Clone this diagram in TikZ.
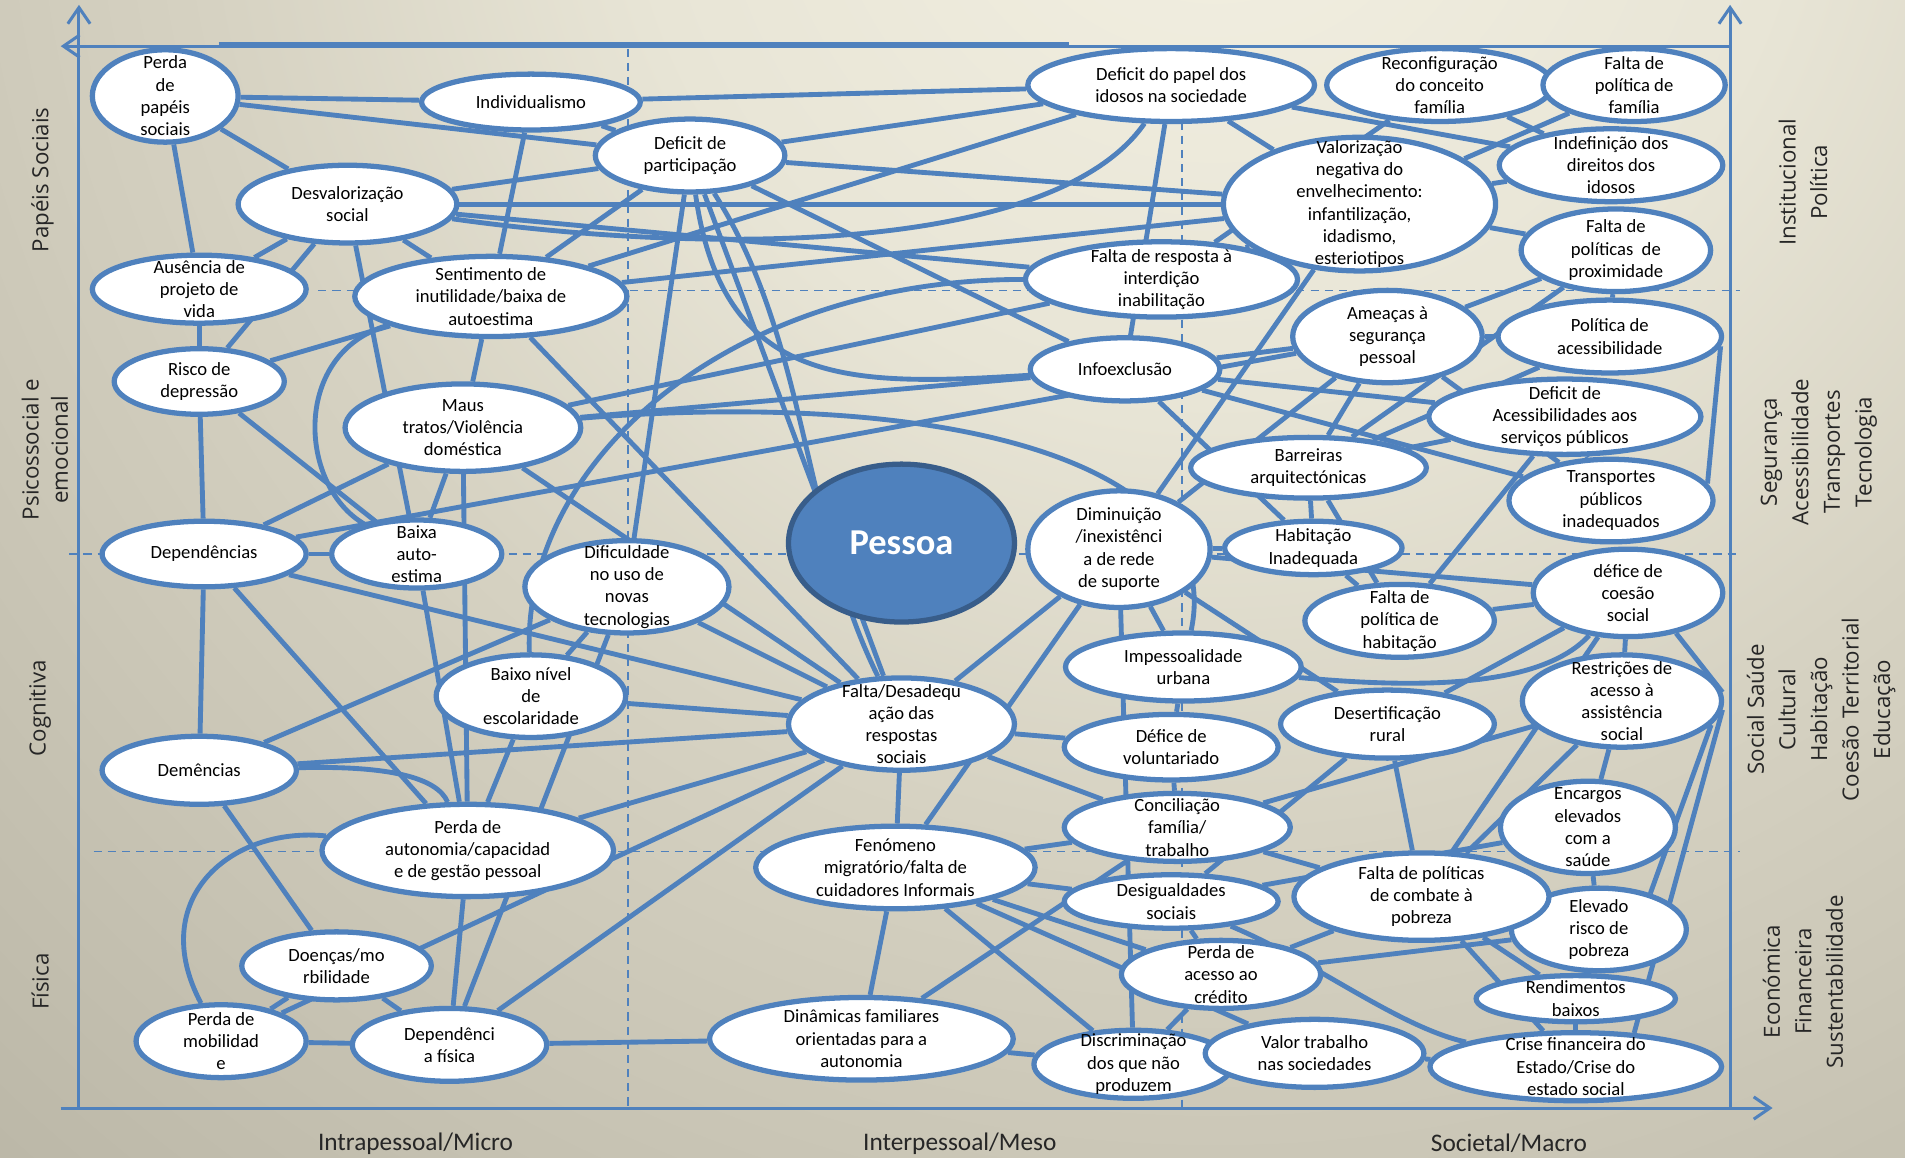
\documentclass[tikz,border=0pt]{standalone}
\usepackage{fontspec}
\setmainfont{Carlito}
\newfontfamily\sidefont{Open Sans}
\usetikzlibrary{arrows.meta,shapes.geometric}
\definecolor{bblue}{HTML}{4F81BD}
\definecolor{pdark}{HTML}{385D8A}
\definecolor{bgA}{HTML}{F3F0E2}
\definecolor{bgB}{HTML}{E8E5D6}
\definecolor{bgC}{HTML}{D6D2C2}
\definecolor{bgD}{HTML}{C7C3B3}
\definecolor{bgE}{HTML}{B9B5A5}
\definecolor{bgF}{HTML}{ABA797}
\definecolor{bgG}{HTML}{9F9B8C}
\definecolor{bgH}{HTML}{938F81}
\definecolor{bgI}{HTML}{878375}
\pgfdeclareradialshading{bgrad}{\pgfpoint{0bp}{0bp}}{color(0bp)=(bgA); color(8bp)=(bgB); color(14bp)=(bgC); color(20bp)=(bgD); color(26bp)=(bgE); color(32bp)=(bgF); color(37bp)=(bgG); color(42bp)=(bgH); color(50bp)=(bgI)}
\pgfdeclarelayer{bgl}
\pgfdeclarelayer{edgel}
\pgfsetlayers{bgl,edgel,main}
\newcommand\nodefnt{\fontsize{9.2}{11}\selectfont}
\newcommand\bub[6]{\node[bub,minimum width=#4*1.2pt,minimum height=#5*1.2pt] (#1) at (#2,#3) {};\node[btxt] (#1-t) at (#2,#3) {#6};}
\tikzset{
  bub/.style={ellipse,draw=bblue,fill=white,line width=2.6pt,inner sep=0pt},
  btxt/.style={font=\nodefnt,align=center,inner sep=0pt,text=black},
  edge/.style={draw=bblue,line width=2.4pt},
  axis/.style={draw=bblue,line width=1.5pt},
  dsh/.style={draw=bblue,line width=0.8pt,dash pattern=on 4pt off 3pt},
  sidelbl/.style={font=\sidefont\fontsize{11}{14.5}\selectfont,align=center,rotate=90,text=black!85},
  botlbl/.style={font=\fontsize{12.5}{14}\selectfont,text=black!85},
  tip/.style={-{Straight Barb[length=8pt,width=11pt,line width=1.5pt]}}
}
\begin{document}
\begin{tikzpicture}[x=0.6pt,y=-0.6pt]
\useasboundingbox (0,0) rectangle (1568,953);
\begin{pgfonlayer}{bgl}
  \begin{scope}
    \clip (0,0) rectangle (1568,953);
    \shade[shading=bgrad] (1000,-150) circle (1500);
  \end{scope}
  % dashed grid
  \draw[dsh] (517,40) -- (517,912);
  \draw[dsh] (973,100) -- (973,912);
  \draw[dsh] (262,239) -- (1432,239);
  \draw[dsh] (57,456) -- (1430,456);
  \draw[dsh] (77,701) -- (1432,701);
  % axes
  \coordinate (axBL) at (65,912);
  \coordinate (axTL) at (65,4);
  \coordinate (axTR) at (1424,4);
  \coordinate (axBR) at (1424,912);
  \coordinate (axLeftEnd) at (50,38);
  \coordinate (axTopStart) at (1424,38);
  \coordinate (axBotStart) at (50,912);
  \coordinate (axBotEnd) at (1459,912);
  \coordinate (thickA) at (180,37);
  \coordinate (thickB) at (880,37);
  \draw[axis,tip] (axBL) -- (axTL);
  \draw[axis,tip] (axBR) -- (axTR);
  \draw[axis,tip] (axTopStart) -- (axLeftEnd);
  \draw[axis,tip] (axBotStart) -- (axBotEnd);
  \draw[draw=bblue,line width=3pt] (thickA) -- (thickB);
\end{pgfonlayer}

% ---------- nodes ----------
\bub{papeis}{136}{79}{60}{38}{Perda\\de\\papéis\\sociais}
\bub{indiv}{437}{84}{90}{23}{Individualismo}
\bub{defpart}{568}{128}{78}{30}{Deficit de\\participação}
\bub{desval}{286}{168}{90}{32}{Desvalorização\\social}
\bub{ausencia}{164}{238}{88}{28}{Ausência de\\projeto de\\vida}
\bub{sentimento}{404}{244}{112}{33}{Sentimento de\\inutilidade/baixa de\\autoestima}
\bub{risco}{164}{314}{70}{27}{Risco de\\depressão}
\bub{maus}{381}{352}{97}{36}{Maus\\tratos/Violência\\doméstica}
\bub{depend}{168}{456}{84}{27}{Dependências}
\bub{baixa}{343}{456}{70}{28}{Baixa\\auto-\\estima}
\bub{dific}{516}{483}{84}{38}{Dificuldade\\no uso de\\novas\\tecnologias}
\bub{baixonivel}{437}{573}{78}{34}{Baixo nível\\de\\escolaridade}
\bub{demencias}{164}{634}{80}{28}{Demências}
\bub{perdaauto}{385}{700}{120}{38}{Perda de\\autonomia/capacidad\\e de gestão pessoal}
\bub{doencas}{277}{795}{78}{28}{Doenças/mo\\rbilidade}
\bub{mobilidade}{182}{857}{70}{30}{Perda de\\mobilidad\\e}
\bub{depfisica}{370}{860}{80}{30}{Dependênci\\a física}
\bub{falta}{742}{596}{93}{38}{Falta/Desadequ\\ação das\\respostas\\sociais}
\bub{fenomeno}{737}{714}{115}{34}{Fenómeno\\migratório/falta de\\cuidadores Informais}
\bub{dinamicas}{709}{855}{125}{34}{Dinâmicas familiares\\orientadas para a\\autonomia}
\bub{defpapel}{964}{70}{118}{30}{Deficit do papel dos\\idosos na sociedade}
\bub{reconf}{1185}{70}{93}{30}{Reconfiguração\\do conceito\\família}
\bub{faltafam}{1345}{70}{75}{30}{Falta de\\política de\\família}
\bub{valoriz}{1119}{168}{112}{55}{Valorização\\negativa do\\envelhecimento:\\infantilização,\\idadismo,\\esteriotipos}
\bub{indefin}{1326}{136}{92}{30}{Indefinição dos\\direitos dos\\idosos}
\bub{faltaresp}{956}{230}{112}{31}{Falta de resposta à\\interdição\\inabilitação}
\bub{faltaprox}{1330}{206}{78}{34}{Falta de\\políticas\ \ de\\proximidade}
\bub{ameacas}{1142}{277}{78}{38}{Ameaças à\\segurança\\pessoal}
\bub{politacess}{1325}{277}{92}{30}{Política de\\acessibilidade}
\bub{infoexcl}{926}{304}{78}{26}{Infoexclusão}
\bub{defacess}{1288}{343}{112}{31}{Deficit de\\Acessibilidades aos\\serviços públicos}
\bub{barreiras}{1077}{385}{97}{25}{Barreiras\\arquitectónicas}
\bub{transportes}{1326}{412}{84}{34}{Transportes\\públicos\\inadequados}
\bub{diminuicao}{921}{452}{75}{48}{Diminuição\\/inexistênci\\a de rede\\de suporte}
\bub{habitacao}{1081}{451}{73}{22}{Habitação\\Inadequada}
\bub{faltahab}{1152}{511}{78}{30}{Falta de\\política de\\habitação}
\bub{defcoesao}{1340}{488}{78}{36}{défice de\\coesão\\social}
\bub{impess}{974}{549}{97}{28}{Impessoalidade\\urbana}
\bub{desertif}{1142}{596}{88}{28}{Desertificação\\rural}
\bub{restricoes}{1335}{577}{82}{38}{Restrições de\\acesso à\\assistência\\social}
\bub{voluntariado}{964}{615}{88}{27}{Défice de\\voluntariado}
\bub{conciliacao}{969}{681}{93}{28}{Conciliação\\família/\\trabalho}
\bub{encargos}{1307}{681}{72}{38}{Encargos\\elevados\\com a\\saúde}
\bub{desigual}{964}{742}{88}{22}{Desigualdades\\sociais}
\bub{elevado}{1316}{765}{72}{34}{Elevado\\risco de\\pobreza}
\bub{faltapobreza}{1170}{738}{105}{36}{Falta de políticas\\de combate à\\pobreza}
\bub{perdacredito}{1005}{802}{82}{28}{Perda de\\acesso ao\\crédito}
\bub{rendimentos}{1297}{822}{82}{19}{Rendimentos\\baixos}
\bub{discrim}{933}{876}{82}{28}{Discriminação\\dos que não\\produzem}
\bub{valortrab}{1082}{867}{90}{28}{Valor trabalho\\nas sociedades}
\bub{crise}{1297}{878}{120}{28}{Crise financeira do\\Estado/Crise do\\estado social}

\node[ellipse,fill=bblue,draw=pdark,line width=2.6pt,minimum width=186*0.6pt,minimum height=130*0.6pt,text=white,font=\fontsize{18}{20}\selectfont\bfseries] (pessoa) at (742,447) {Pessoa};

% ---------- axis labels ----------
\node[sidelbl] (lPap) at (35,148) {Papéis Sociais};
\node[sidelbl] (lPsi) at (37,370) {Psicossocial e\\emocional};
\node[sidelbl] (lCog) at (33,583) {Cognitiva};
\node[sidelbl] (lFis) at (33,808) {Física};
\node[sidelbl,font=\sidefont\fontsize{11}{15.6}\selectfont] (lIns) at (1484,150) {Institucional\\Política};
\node[sidelbl,font=\sidefont\fontsize{11}{15.6}\selectfont] (lSeg) at (1497,372) {Segurança\\Acessibilidade\\Transportes\\Tecnologia};
\node[sidelbl,font=\sidefont\fontsize{11}{15.6}\selectfont] (lSoc) at (1499,584) {Social Saúde\\Cultural\\Habitação\\Coesão Territorial\\Educação};
\node[sidelbl,font=\sidefont\fontsize{11}{15.6}\selectfont] (lEco) at (1484,808) {Económica\\Financeira\\Sustentabilidade};
\node[botlbl] (lMic) at (342,941) {Intrapessoal/Micro};
\node[botlbl] (lMes) at (790,941) {Interpessoal/Meso};
\node[botlbl] (lMac) at (1242,941) {Societal/Macro};

% ---------- connectors ----------
\begin{pgfonlayer}{edgel}
\foreach \a/\b in {papeis/indiv,papeis/defpart,papeis/desval,papeis/ausencia,
  indiv/sentimento,indiv/defpapel,indiv/defpart,
  desval/ausencia,desval/risco,desval/sentimento,desval/baixa,desval/valoriz,desval/faltaresp,desval/defpart,
  ausencia/risco,
  sentimento/maus,sentimento/risco,sentimento/valoriz,sentimento/defpapel,sentimento/defpart,sentimento/falta,
  defpart/defpapel,defpart/valoriz,defpart/dific,defpart/falta,defpart/infoexcl,
  risco/depend,risco/baixa,
  depend/maus,depend/baixa,depend/ameacas,depend/falta,depend/demencias,depend/perdaauto,
  demencias/dific,demencias/falta,demencias/doencas,
  baixa/maus,baixa/perdaauto,
  maus/faltaresp,maus/infoexcl,maus/falta,
  dific/baixonivel,dific/falta,
  baixonivel/falta,baixonivel/perdaauto,
  perdaauto/falta,perdaauto/depfisica,perdaauto/maus,
  mobilidade/doencas,mobilidade/depfisica,mobilidade/falta,
  doencas/depfisica,
  depfisica/falta,depfisica/dinamicas,depfisica/dific,
  falta/fenomeno,falta/conciliacao,falta/diminuicao,falta/voluntariado,
  fenomeno/dinamicas,fenomeno/desigual,fenomeno/conciliacao,fenomeno/discrim,fenomeno/valortrab,fenomeno/perdacredito,
  dinamicas/conciliacao,dinamicas/discrim,
  defpapel/infoexcl,defpapel/valoriz,defpapel/indefin,
  reconf/faltaresp,reconf/indefin,
  faltafam/valoriz,
  valoriz/indefin,valoriz/faltaprox,valoriz/faltaresp,valoriz/diminuicao,
  faltaprox/ameacas,faltaprox/politacess,faltaprox/barreiras,
  ameacas/politacess,ameacas/barreiras,ameacas/transportes,ameacas/diminuicao,
  politacess/barreiras,
  infoexcl/defacess,infoexcl/ameacas,infoexcl/habitacao,infoexcl/transportes,
  defacess/barreiras,defacess/faltahab,defacess/transportes,
  barreiras/habitacao,barreiras/faltahab,
  diminuicao/habitacao,diminuicao/defcoesao,diminuicao/impess,diminuicao/fenomeno,diminuicao/discrim,diminuicao/desertif,
  habitacao/faltahab,
  faltahab/defcoesao,
  desertif/defcoesao,desertif/faltapobreza,
  restricoes/faltapobreza,restricoes/conciliacao,defcoesao/restricoes,defcoesao/faltapobreza,
  impess/voluntariado,
  voluntariado/conciliacao,
  encargos/elevado,encargos/desigual,encargos/restricoes,
  desigual/perdacredito,desigual/desertif,
  faltapobreza/crise,faltapobreza/rendimentos,faltapobreza/perdacredito,faltapobreza/conciliacao,
  perdacredito/elevado,perdacredito/discrim,
  elevado/rendimentos,
  rendimentos/crise,
  valortrab/crise}
  {\draw[edge] (\a) -- (\b);}
% right-side long connectors
\draw[edge] (politacess.-5) -- (transportes.10);
\draw[edge] (defcoesao.-40) -- (restricoes.5);
\draw[edge] (restricoes.-5) -- (crise.30);
\draw[edge] (restricoes.-15) -- (elevado.35);
% curves
\draw[edge] (desval) .. controls (600,212) and (870,205) .. (defpapel);
\draw[edge] (baixonivel) .. controls (430,380) and (600,230) .. (faltaresp);
\draw[edge] (mobilidade) .. controls (120,740) and (190,680) .. (perdaauto);
\draw[edge] (demencias) .. controls (320,630) and (360,640) .. (perdaauto);
\draw[edge] (maus) .. controls (780,320) and (1010,380) .. (impess);
\draw[edge] (defpart) .. controls (665,280) and (660,430) .. (falta);
\draw[edge] (defpart) .. controls (595,320) and (700,318) .. (infoexcl);
\draw[edge] (impess) .. controls (1150,565) and (1265,570) .. (defcoesao);
\draw[edge] (desigual) .. controls (1080,790) and (1150,845) .. (crise);
\draw[edge] (sentimento) .. controls (240,290) and (245,400) .. (baixa);
\end{pgfonlayer}
\end{tikzpicture}
\end{document}
